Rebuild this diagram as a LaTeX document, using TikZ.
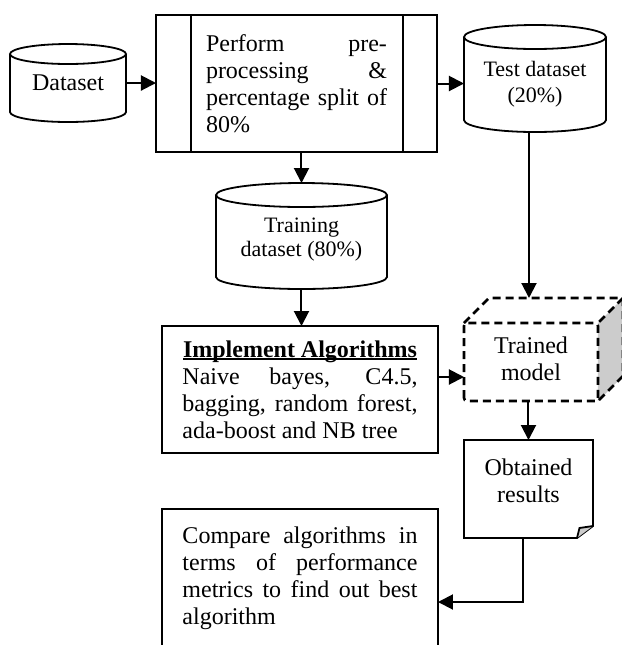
\documentclass[tikz,border=0pt]{standalone}
\usepackage{fontspec}
\setmainfont{Liberation Serif}
\usetikzlibrary{arrows.meta,calc}
\tikzset{
  edgeline/.style={line width=0.9pt},
  flow/.style={line width=1pt,-{Triangle[length=7.5pt,width=7.5pt]}},
  body/.style={font=\fontsize{12}{13.5}\selectfont},
  small/.style={font=\fontsize{11}{13}\selectfont},
  slot/.style={inner sep=0pt,outer sep=0pt},
  dashcube/.style={line width=1.3pt,dash pattern=on 4pt off 2.5pt},
}
% drum (database) outline around a named node: #1 node, #2 half width, #3 cap radius
\newcommand\drumshape[3]{%
  \draw[edgeline] ([yshift=-#3*0.5pt]#1.north west) -- ([yshift=#3*0.5pt]#1.south west)
    arc[start angle=180,end angle=360,x radius=#2,y radius=#3]
    -- ([yshift=-#3*0.5pt]#1.north east);
  \draw[edgeline] ([yshift=-#3*0.5pt]#1.north) ellipse[x radius=#2,y radius=#3];
}
% underline sitting close to the baseline
\newcommand\lowrule[1]{\rlap{\rule[-1.2pt]{\widthof{#1}}{0.7pt}}#1}
\usepackage{calc}
\begin{document}
\begin{tikzpicture}[x=0.5pt,y=0.5pt]
\useasboundingbox (0,0) rectangle (622,-645);
\fill[white] (0,0) rectangle (622,-645);

% input data set
\node[slot,minimum width=58pt,minimum height=39pt,body] (ds) at (68,-83) {Dataset};
\drumshape{ds}{58}{10}

% preprocessing step (predefined process)
\node[slot,draw,edgeline,minimum width=140.5pt,minimum height=68.5pt,body,
      text width=90.5pt,align=justify] (proc) at (296.5,-83.5)
  {Perform pre-\linebreak processing \&\linebreak percentage split of\linebreak 80\%};
\draw[edgeline] ([xshift=17.5pt]proc.north west) -- ([xshift=17.5pt]proc.south west);
\draw[edgeline] ([xshift=-17pt]proc.north east) -- ([xshift=-17pt]proc.south east);

% test split
\node[slot,minimum width=71pt,minimum height=53.5pt] (test) at (535,-78.5) {};
\drumshape{test}{71}{12}
\node[small,align=center,slot] (testlbl) at ([yshift=-3pt]test.center) {Test dataset\\(20\%)};

% training split
\node[slot,minimum width=85.5pt,minimum height=53pt] (train) at (301.5,-236) {};
\drumshape{train}{85.5}{12}
\node[font=\fontsize{11}{12}\selectfont,align=center,slot] (trainlbl) at ([yshift=-2pt]train.center) {Training\\dataset (80\%)};

% algorithms
\node[slot,draw,edgeline,minimum width=138pt,minimum height=63.5pt,body,
      text width=117.5pt,align=justify] (impl) at (300,-389.5)
  {\makebox[\linewidth]{\textbf{\lowrule{Implement Algorithms}}}\linebreak
   Naive bayes, C4.5,\linebreak bagging, random forest,\linebreak ada-boost and NB tree};

% trained model (cube)
\node[slot,minimum width=67pt,minimum height=39pt,body,align=center] (trained) at (531,-362) {};
\fill[gray!40] (trained.north east) -- ++(25,25) -- ++(0,-78) -- (trained.south east) -- cycle;
\draw[dashcube] (trained.north west) -- ++(25,25) -- ++(134,0) -- (trained.north east);
\draw[dashcube] ([xshift=12.5pt,yshift=12.5pt]trained.north east) -- ++(0,-78) -- (trained.south east);
\draw[dashcube,rounded corners=1.5pt] (trained.south west) rectangle (trained.north east);
\node[body,align=center,slot] (trainedlbl) at ([yshift=1.5pt]trained.center) {Trained\\model};

% results document
\node[slot,minimum width=64.5pt,minimum height=49pt] (obt) at (528.5,-489) {};
\draw[edgeline] (obt.north west) -- (obt.north east) -- ([yshift=6pt]obt.south east)
  -- ([xshift=-8pt]obt.south east) -- (obt.south west) -- cycle;
\filldraw[fill=gray!40,edgeline] ([xshift=-8pt]obt.south east) -- ++(2.5,10) -- ([yshift=6pt]obt.south east);
\node[body,align=center,slot] (obtlbl) at ([yshift=4pt]obt.center) {Obtained\\results};

% comparison
\node[slot,draw,edgeline,minimum width=138pt,minimum height=69.5pt,body,
      text width=117.5pt,align=justify] (comp) at (300,-578.5)
  {Compare algorithms in\linebreak terms of performance\linebreak metrics to find out best\linebreak algorithm};

% connectors
\coordinate (cubetop) at (529,-298);
\coordinate (midrow) at (0,-377);
\coordinate (turn) at (523,-602);
\draw[flow] (ds.east) -- (ds.east -| proc.west);
\draw[flow] (proc.east) -- (proc.east -| test.west);
\draw[flow] (train.north |- proc.south) -- (train.north);
\draw[flow] (test.south -| cubetop) -- (cubetop);
\draw[flow] (train.south) -- (train.south |- impl.north);
\draw[flow] (impl.east |- midrow) -- (trained.west |- midrow);
\draw[flow] (trained.south -| obt.north) -- (obt.north);
\draw[flow] (obt.south -| turn) -- (turn) -- (turn -| comp.east);
\end{tikzpicture}
\end{document}
